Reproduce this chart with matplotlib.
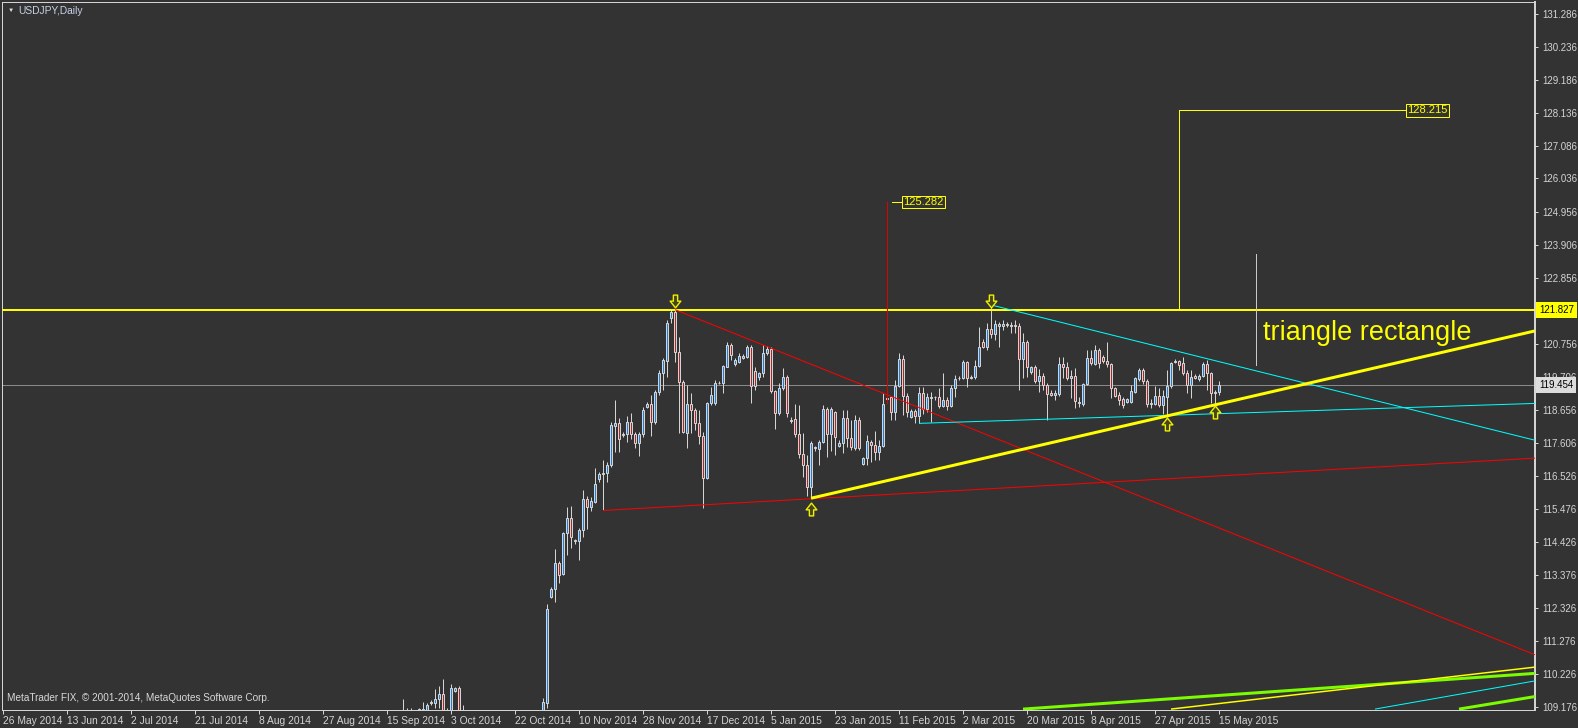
import matplotlib
matplotlib.use("Agg")
import matplotlib.pyplot as plt
import matplotlib.transforms as mtransforms
from matplotlib.path import Path
import numpy as np
import pandas as pd

plt.rcParams['font.family'] = ['Liberation Sans', 'DejaVu Sans']

BG = '#333333'
FG = '#d4d4d4'
BULL = '#1f7fd6'
BEAR = '#a8282b'
PX = 0.72  # one pixel in points at dpi 100

# bar calendar of the chart (broker keeps Sunday bars, no Saturday)
all_days = pd.date_range('2014-05-26', '2015-05-15', freq='D')
bar_dates = all_days[all_days.dayofweek != 5]
first_bar = 100  # 19 Sep 2014, first candle that reaches the visible range

opens = [
    108.75, 108.98, 109.00, 108.75, 108.85, 109.10, 108.75, 109.28, 109.30, 109.43,
    109.58, 108.85, 108.45, 109.69, 109.76, 108.80, 108.10, 108.15, 108.10, 107.60,
    107.40, 107.30, 107.00, 105.90, 106.30, 106.90, 106.95, 106.90, 107.20, 107.10,
    108.20, 108.10, 108.10, 107.80, 108.10, 108.90, 109.28, 112.68, 112.92, 113.77,
    113.41, 114.71, 115.19, 114.47, 114.47, 114.81, 115.80, 115.56, 115.72, 116.44,
    116.59, 116.64, 116.89, 118.15, 118.22, 117.85, 117.88, 118.27, 117.88, 117.58,
    117.88, 118.75, 118.84, 118.25, 119.21, 119.82, 120.20, 121.57, 121.78, 120.51,
    119.53, 117.90, 118.84, 118.65, 118.22, 117.82, 116.47, 118.86, 118.86, 119.50,
    119.50, 120.03, 120.72, 120.11, 120.19, 120.30, 120.35, 120.67, 119.90, 119.69,
    119.82, 120.47, 120.60, 119.25, 118.56, 119.34, 119.71, 118.32, 118.35, 117.88,
    117.24, 116.90, 116.20, 117.45, 117.39, 117.63, 118.67, 117.88, 118.59, 117.50,
    117.60, 118.38, 117.74, 117.44, 118.33, 116.91, 117.10, 117.63, 117.53, 117.30,
    117.51, 119.00, 119.05, 118.59, 119.41, 120.27, 119.09, 118.43, 118.62, 118.45,
    119.20, 118.69, 119.03, 119.05, 119.05, 118.77, 118.96, 118.78, 119.34, 119.66,
    119.66, 120.17, 119.66, 119.69, 120.05, 120.83, 120.67, 121.22, 121.07, 121.33,
    121.33, 121.36, 121.33, 121.36, 121.33, 120.26, 120.83, 119.85, 120.01, 119.58,
    119.73, 119.44, 119.20, 119.12, 119.15, 120.11, 120.01, 119.66, 119.73, 118.90,
    118.84, 119.47, 120.30, 120.11, 120.56, 120.33, 120.22, 120.11, 119.34, 119.12,
    118.99, 118.91, 118.91, 119.23, 119.63, 119.92, 119.58, 118.84, 118.84, 119.09,
    118.80, 119.07, 119.41, 120.19, 120.21, 120.16, 119.84, 119.44, 119.73, 119.63,
    119.73, 120.11, 119.84, 119.18, 119.22,
]
highs = [
    109.43, 109.14, 109.14, 109.00, 109.14, 109.34, 109.28, 109.39, 109.73, 109.84,
    110.05, 109.12, 109.90, 109.81, 109.84, 109.23, 108.30, 108.40, 108.30, 107.70,
    107.60, 107.40, 107.40, 106.50, 107.00, 107.00, 107.20, 107.30, 107.40, 108.30,
    108.40, 108.20, 108.30, 108.20, 108.95, 109.45, 112.45, 112.99, 114.21, 113.83,
    114.76, 115.56, 115.58, 114.53, 114.89, 116.09, 115.90, 115.86, 116.79, 116.67,
    117.05, 116.99, 118.27, 118.97, 118.38, 117.95, 118.45, 118.54, 117.95, 117.95,
    118.75, 118.91, 119.13, 119.28, 119.92, 120.30, 121.52, 121.86, 121.86, 120.99,
    119.60, 119.44, 119.18, 118.70, 118.65, 117.95, 118.91, 119.39, 119.60, 119.56,
    120.08, 120.83, 120.77, 120.30, 120.46, 120.42, 120.72, 120.72, 120.01, 119.85,
    120.72, 120.70, 120.67, 119.28, 119.50, 119.98, 119.76, 118.43, 118.84, 118.80,
    117.90, 117.20, 117.65, 117.51, 117.69, 118.80, 118.73, 118.75, 118.62, 117.69,
    118.65, 118.65, 118.33, 118.49, 118.43, 117.16, 117.85, 117.69, 117.99, 117.69,
    119.18, 119.20, 119.09, 119.60, 120.47, 120.40, 119.18, 118.67, 118.67, 119.39,
    119.39, 119.18, 119.23, 119.09, 119.34, 119.82, 119.07, 119.44, 119.76, 119.73,
    120.24, 120.22, 119.76, 120.24, 121.30, 120.90, 121.41, 122.05, 121.52, 121.46,
    121.52, 121.45, 121.46, 121.52, 121.41, 121.09, 120.88, 120.05, 120.08, 119.94,
    119.82, 119.50, 119.28, 119.30, 120.35, 120.35, 120.19, 119.92, 119.98, 119.05,
    119.52, 120.56, 120.56, 120.72, 120.62, 120.40, 120.83, 120.14, 119.39, 119.23,
    119.05, 119.04, 119.44, 119.71, 119.98, 119.98, 119.63, 119.00, 119.41, 119.34,
    119.28, 119.92, 120.19, 120.27, 120.24, 120.35, 119.92, 119.92, 119.78, 119.78,
    120.19, 120.24, 119.87, 119.30, 119.56,
]
lows = [
    108.60, 108.92, 108.60, 108.40, 108.50, 108.35, 108.60, 109.23, 109.12, 109.12,
    108.75, 107.95, 108.40, 109.65, 108.65, 108.00, 107.70, 107.75, 107.50, 107.30,
    106.75, 106.80, 105.20, 105.60, 106.30, 106.80, 106.70, 106.60, 106.90, 107.00,
    107.90, 108.00, 107.70, 107.70, 108.00, 108.80, 109.13, 112.65, 112.53, 113.13,
    113.38, 114.02, 114.23, 114.36, 113.85, 114.60, 114.86, 115.43, 115.69, 116.34,
    115.46, 116.36, 116.84, 117.31, 117.31, 117.79, 117.63, 117.71, 117.42, 117.19,
    117.79, 118.70, 117.82, 118.20, 119.13, 119.28, 119.69, 121.41, 120.19, 117.90,
    117.90, 117.42, 117.90, 118.01, 117.56, 115.51, 116.43, 118.80, 118.80, 119.47,
    119.18, 120.01, 120.24, 120.05, 120.14, 120.28, 120.30, 118.86, 119.28, 119.60,
    119.71, 120.40, 119.18, 118.03, 118.49, 119.28, 118.41, 118.22, 117.79, 117.10,
    116.50, 115.90, 115.83, 117.35, 116.89, 117.58, 117.15, 117.35, 117.21, 117.46,
    117.26, 117.48, 117.37, 117.37, 117.37, 116.89, 116.89, 116.99, 117.05, 117.05,
    117.48, 118.96, 118.33, 118.33, 119.39, 118.49, 118.41, 118.40, 118.24, 118.22,
    118.52, 118.59, 118.27, 118.98, 118.70, 118.75, 118.65, 118.75, 119.07, 119.60,
    119.63, 119.37, 119.63, 119.63, 120.03, 120.62, 120.56, 120.93, 120.88, 120.65,
    121.20, 121.30, 121.09, 121.09, 119.28, 119.66, 119.71, 119.80, 119.50, 119.23,
    119.28, 118.33, 119.08, 118.95, 119.09, 119.66, 119.60, 119.02, 118.70, 118.75,
    118.77, 119.44, 120.08, 120.08, 120.00, 120.16, 120.03, 119.02, 119.05, 118.80,
    118.70, 118.86, 118.86, 119.20, 119.58, 119.47, 118.75, 118.70, 118.80, 118.75,
    118.52, 118.43, 119.36, 120.14, 119.92, 119.76, 119.18, 119.02, 119.62, 119.58,
    119.69, 119.28, 118.86, 118.85, 119.12,
]
closes = [
    108.95, 109.02, 108.75, 108.85, 109.10, 108.75, 109.24, 109.34, 109.41, 109.58,
    108.85, 108.45, 109.76, 109.76, 108.80, 108.10, 108.15, 108.10, 107.60, 107.40,
    107.30, 107.00, 105.90, 106.30, 106.90, 106.95, 106.90, 107.20, 107.10, 108.20,
    108.10, 108.10, 107.80, 108.10, 108.90, 109.33, 112.29, 112.93, 113.77, 113.39,
    114.71, 115.19, 114.58, 114.49, 114.81, 115.80, 115.56, 115.73, 116.27, 116.59,
    116.62, 116.89, 118.17, 118.22, 117.71, 117.88, 118.27, 117.88, 117.58, 117.88,
    118.65, 118.84, 118.25, 119.21, 119.82, 120.24, 121.41, 121.78, 120.51, 119.53,
    117.93, 118.84, 118.65, 118.22, 117.82, 116.49, 118.86, 119.12, 119.50, 119.52,
    120.05, 120.72, 120.40, 120.24, 120.37, 120.37, 120.67, 119.41, 119.41, 119.82,
    120.47, 120.60, 119.25, 118.56, 119.34, 119.71, 118.54, 118.30, 117.88, 117.24,
    116.90, 116.18, 117.58, 117.42, 117.63, 118.67, 117.88, 118.67, 117.77, 117.60,
    118.38, 117.74, 117.45, 118.33, 117.44, 117.10, 117.66, 117.53, 117.30, 117.51,
    118.83, 119.02, 118.59, 119.41, 120.27, 119.09, 118.59, 118.62, 118.45, 119.20,
    118.67, 119.05, 119.06, 119.07, 118.77, 118.96, 118.78, 119.34, 119.63, 119.68,
    120.17, 119.66, 119.69, 120.05, 120.65, 120.67, 121.22, 121.07, 121.38, 121.39,
    121.39, 121.38, 121.37, 121.34, 120.26, 120.83, 120.03, 120.01, 119.58, 119.73,
    119.44, 119.15, 119.12, 119.20, 120.11, 120.01, 119.66, 119.73, 118.94, 118.86,
    119.47, 120.30, 120.16, 120.56, 120.16, 120.22, 120.11, 119.34, 119.09, 118.96,
    118.80, 119.00, 119.26, 119.66, 119.92, 119.58, 118.84, 118.88, 119.09, 118.80,
    119.09, 119.41, 120.16, 120.21, 120.08, 119.84, 119.44, 119.69, 119.66, 119.73,
    120.11, 119.84, 119.18, 119.22, 119.45,
]

# price-axis labels
price_ticks = [131.286, 130.236, 129.186, 128.136, 127.086, 126.036, 124.956,
               123.906, 122.856, 120.756, 119.706, 118.656, 117.606, 116.526,
               115.476, 114.426, 113.376, 112.326, 111.276, 110.226, 109.176]
hline_price = 121.827
bid_price = 119.454

# trendline rays: (bar1, price1, bar2, price2, colour, width in px)
trendlines = [
    (168, 121.85, 249, 117.70, '#ff0000', 1),
    (150, 115.44, 224, 115.97, '#ff0000', 1),
    (247, 122.00, 304, 120.19, '#00ffff', 1),
    (229, 118.22, 304, 118.53, '#00ffff', 1),
    (202, 115.83, 304, 118.84, '#ffff00', 3),
    (255, 109.10, 383, 110.24, '#7cfc00', 3),
    (292, 109.10, 383, 110.44, '#ffff00', 1.5),
    (343, 109.10, 383, 110.00, '#00ffff', 1),
    (364, 109.10, 383, 109.50, '#7cfc00', 3),
]

# arrow objects: bar, price, direction
arrow_bars = [168, 247, 202, 291, 303]
arrow_prices = [122.13, 122.13, 115.49, 118.20, 118.57]
arrow_dirs = ['down', 'down', 'up', 'up', 'up']

# projection targets
red_target = (221, 118.87, 125.282, 224.75)      # bar, from, to, label bar
yellow_target = (294, 121.827, 128.215, 350.75)
gray_vline = (313.25, 120.08, 123.61)

fig = plt.figure(figsize=(15.78, 7.28), dpi=100, facecolor=BG)
ax = fig.add_axes([2 / 1578, 18 / 728, 1533 / 1578, 708 / 728], facecolor=BG)
XMAX = 383
ax.set_xlim(-0.25, XMAX)
ax.set_ylim(109.071, 131.669)

# candles
x = np.arange(first_bar, first_bar + len(opens))
o = np.array(opens)
h = np.array(highs)
l = np.array(lows)
c = np.array(closes)
ax.vlines(x, l, h, color=FG, lw=PX, zorder=2)
fills = [BULL if cc >= oo else BEAR for oo, cc in zip(o, c)]
ax.bar(x, np.abs(c - o), bottom=np.minimum(o, c), width=0.6, color=fills,
       edgecolor=FG, linewidth=PX, zorder=2)

# horizontal lines
ax.axhline(bid_price, color='#8a8a8a', lw=PX, zorder=1)
ax.axhline(hline_price, color='#ffff00', lw=2 * PX, zorder=3)

# trendline rays to the right edge
for b1, p1, b2, p2, col, w in trendlines:
    slope = (p2 - p1) / (b2 - b1)
    ax.plot([b1, XMAX], [p1, p1 + slope * (XMAX - b1)], color=col,
            lw=w * PX, zorder=3, solid_capstyle='butt')

# projections with price labels
b, p0, p1, lb = red_target
ax.plot([b, b], [p0, p1], color='#e00000', lw=PX, zorder=3)
ax.plot([b + 1.2, lb], [p1, p1], color='#ffff00', lw=PX, zorder=3)
ax.text(lb + 0.3, p1, f'{p1:.3f}', color='#ffff00', fontsize=8, ha='left', va='center',
        bbox=dict(boxstyle='square,pad=0.12', fc=BG, ec='#ffff00', lw=PX), zorder=4)

b, p0, p1, lb = yellow_target
ax.plot([b, b], [p0, p1], color='#ffff00', lw=PX, zorder=3)
ax.plot([b, lb], [p1, p1], color='#ffff00', lw=PX, zorder=3)
ax.text(lb + 0.3, p1, f'{p1:.3f}', color='#ffff00', fontsize=8, ha='left', va='center',
        bbox=dict(boxstyle='square,pad=0.12', fc=BG, ec='#ffff00', lw=PX), zorder=4)

b, p0, p1 = gray_vline
ax.plot([b, b], [p0, p1], color='#c8c8c8', lw=PX, zorder=3)

# arrows
down_path = Path([(-0.3, 0.9), (0.3, 0.9), (0.3, 0.05), (0.75, 0.05), (0, -0.9),
                  (-0.75, 0.05), (-0.3, 0.05), (-0.3, 0.9)], closed=True)
up_path = Path(down_path.vertices * [1, -1], closed=True)
for ab, ap, ad in zip(arrow_bars, arrow_prices, arrow_dirs):
    ax.scatter([ab], [ap], marker=down_path if ad == 'down' else up_path, s=85,
               facecolor='#45451e', edgecolor='#f0f000', linewidths=1.0, zorder=5)

ax.text(315, 121.10, 'triangle rectangle', color='#ffff00', fontsize=19.5,
        ha='left', va='center', zorder=5)

# axes styling
for side, sp in ax.spines.items():
    sp.set_color(FG)
    sp.set_linewidth(PX)
ax.spines['right'].set_linewidth(2 * PX)

ax.yaxis.tick_right()
ax.set_yticks(price_ticks, [f'{v:.3f}' for v in price_ticks])
ax.tick_params(axis='y', colors=FG, length=2.5, width=PX, pad=2.5, labelsize=7.0)

tick_bars = list(range(0, len(bar_dates), 16))
tick_labels = [f'{d.day} {d:%b %Y}' for d in bar_dates[tick_bars]]
ax.set_xticks(tick_bars, tick_labels)
for t in ax.get_xticklabels():
    t.set_horizontalalignment('left')
ax.tick_params(axis='x', colors=FG, length=3, width=PX, pad=1.5, labelsize=7.4)

# price boxes on the scale
yx = mtransforms.blended_transform_factory(ax.transAxes, ax.transData)
ax.text(1.0 + 4 / 1533, hline_price, f'{hline_price:.3f}', transform=yx, fontsize=7.0,
        color='black', ha='left', va='center', clip_on=False, zorder=6,
        bbox=dict(boxstyle='square,pad=0.3', fc='#ffff00', ec='none'))
ax.text(1.0 + 4 / 1533, bid_price, f'{bid_price:.3f}', transform=yx, fontsize=7.0,
        color='black', ha='left', va='center', clip_on=False, zorder=6,
        bbox=dict(boxstyle='square,pad=0.3', fc='#dcdcdc', ec='none'))

ax.text(9 / 1533, 1 - 8.5 / 708, '\u25bc', transform=ax.transAxes, fontsize=4.5,
        color='#e0e0e0', ha='center', va='center')
ax.text(16 / 1533, 1 - 9 / 708, 'USDJPY,Daily', transform=ax.transAxes, fontsize=7.4,
        color='#c8d2e4', ha='left', va='center')
ax.text(5 / 1533, 12 / 708, 'MetaTrader FIX, \u00a9 2001-2014, MetaQuotes Software Corp.',
        transform=ax.transAxes, fontsize=7.2, color='#d8d8d8', ha='left', va='center')

fig.savefig('out.png', dpi=100, facecolor=BG)
